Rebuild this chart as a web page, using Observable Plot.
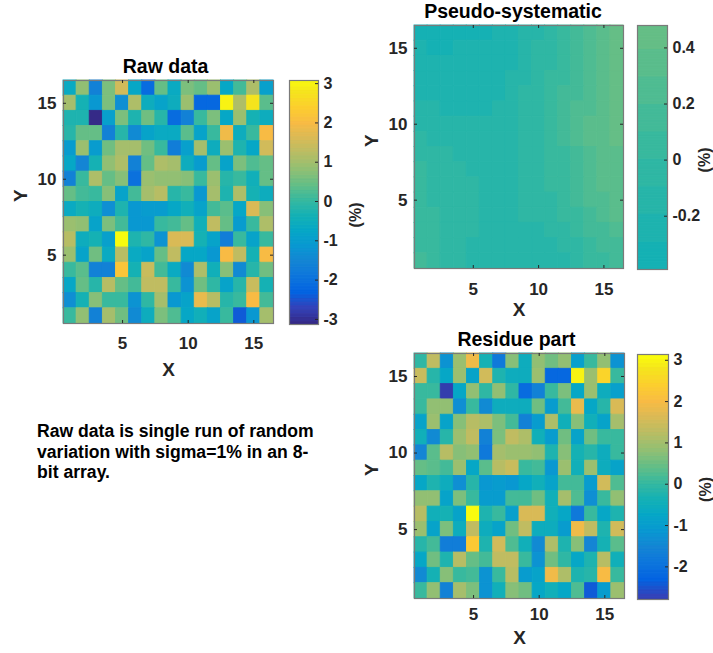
<!DOCTYPE html>
<html><head><meta charset="utf-8">
<script src="https://cdn.jsdelivr.net/npm/d3@7"></script>
<script src="https://cdn.jsdelivr.net/npm/@observablehq/plot@0.6"></script>
<style>
body{margin:0;background:#fff;}
#root{position:relative;width:713px;height:653px;overflow:hidden;font-family:"Liberation Sans",Arial,sans-serif;}
.panel{position:absolute;width:max-content;}
.panel svg{overflow:visible;max-width:none !important;display:block;}
.note{position:absolute;left:37px;top:421px;font-weight:bold;font-size:17.6px;line-height:20.5px;color:#000;white-space:nowrap;}
</style></head>
<body><div id="root"></div>
<script>
// ---- data (rows listed from Y=16 at top down to Y=1; columns X=1..16) ----
const rawData = [
  [-0.6, 0.8, -1.6, 0.6, 1.5, -0.7, -2.1, 0.4, -0.6, 0.6, 0.45, 0.95, -0.7, 0.15, 1.1, -0.9],
  [1.0, -0.3, -1.1, 0.6, -1.3, 1.1, -0.5, -0.8, -0.5, 0.9, -2.2, -2.2, 3.0, 1.1, 2.8, 0.3],
  [-0.2, -0.2, -3.1, -0.9, 0.6, -0.2, 0.55, -0.1, -2.1, -1.6, 0.05, 0.6, -0.75, 0.9, -0.3, -0.55],
  [-0.1, 0.45, 0.4, -1.6, -0.1, -1.45, -0.85, -0.65, -0.65, 0.35, -0.85, 0.1, 1.9, -0.55, 0.1, 2.0],
  [-1.0, 0.9, -1.0, 0.5, 1.0, 1.0, 0.5, 0.05, -1.7, -0.95, 1.05, -0.5, 0.9, -0.25, -0.7, 1.55],
  [-0.75, -1.5, -0.35, 0.8, 1.1, -1.6, 0.45, 1.15, 1.05, -0.55, -1.0, 0.45, -0.8, 0.65, 0.25, 0.45],
  [-1.6, 0.1, 1.1, 0.45, 0.7, -2.0, 0.9, 0.8, 0.85, 0.75, 0.05, 0.9, -0.1, 0.05, -0.45, 0.45],
  [0.4, 0.15, 0.1, 0.75, -0.8, 0.15, 1.05, 1.2, -0.1, 0.1, -1.15, 1.0, -0.2, 1.1, -0.3, -0.5],
  [-0.65, -0.3, -0.5, -1.3, -0.25, -1.1, -1.05, -1.0, -0.75, -0.4, -0.85, 0.2, 0.35, -0.75, 1.65, 0.75],
  [0.9, 0.85, -0.85, 0.6, 0.15, -1.1, -1.1, 0.1, 0.15, 0.45, -0.45, 1.3, 0.4, -1.0, 0.05, 1.1],
  [1.2, -0.55, -0.3, -0.95, 3.05, -0.2, 0.0, -1.2, 1.6, 1.6, -0.3, -0.8, -1.75, 0.05, -0.8, 0.05],
  [0.9, -0.85, 0.55, -0.6, 1.25, -0.65, -0.85, 0.4, 1.3, -0.7, -0.7, -1.1, 2.0, 1.3, -0.3, 2.0],
  [0.05, 0.35, -1.6, -1.6, 2.2, -0.3, 1.45, 0.2, -0.65, -1.45, 1.1, -0.4, 0.7, -1.45, -0.15, 0.55],
  [-0.75, 0.45, -0.15, 1.2, 0.45, 0.2, 1.35, 1.35, 0.05, -1.2, 0.5, 0.0, -0.8, -0.1, 1.4, -0.3],
  [-1.3, -0.3, 0.7, 0.05, 0.1, -1.2, -0.05, 1.0, -1.1, -0.85, 1.85, 1.2, -0.15, 0.05, 2.05, 0.2],
  [0.05, 0.8, -1.6, 1.05, 0.55, -1.45, -0.55, 0.6, 0.25, -0.75, -0.45, -0.8, 0.1, -2.4, -1.15, 1.05]
];
const pseudoData = [
  [-0.34,-0.34,-0.34,-0.34,-0.34,-0.34,-0.24,-0.24,-0.14,-0.14,-0.04,0.06,0.15,0.25,0.35,0.45],
  [-0.24,-0.34,-0.34,-0.24,-0.24,-0.24,-0.24,-0.24,-0.14,-0.04,-0.04,0.06,0.15,0.25,0.35,0.45],
  [-0.24,-0.24,-0.24,-0.24,-0.24,-0.24,-0.24,-0.24,-0.14,-0.04,-0.04,0.06,0.15,0.25,0.35,0.45],
  [-0.24,-0.24,-0.24,-0.24,-0.24,-0.24,-0.24,-0.14,-0.14,-0.04,0.06,0.06,0.15,0.25,0.35,0.45],
  [-0.24,-0.24,-0.24,-0.24,-0.24,-0.24,-0.24,-0.14,-0.04,-0.04,0.06,0.15,0.15,0.25,0.35,0.45],
  [-0.14,-0.14,-0.24,-0.24,-0.24,-0.24,-0.14,-0.14,-0.04,-0.04,0.06,0.15,0.25,0.25,0.35,0.45],
  [-0.14,-0.14,-0.14,-0.14,-0.14,-0.14,-0.14,-0.14,-0.04,-0.04,0.06,0.15,0.25,0.35,0.35,0.45],
  [-0.04,-0.14,-0.14,-0.14,-0.14,-0.14,-0.14,-0.14,-0.04,-0.04,0.06,0.15,0.25,0.35,0.35,0.45],
  [-0.04,-0.04,-0.04,-0.14,-0.14,-0.14,-0.14,-0.14,-0.04,-0.04,0.06,0.06,0.15,0.25,0.35,0.35],
  [0.06,-0.04,-0.04,-0.04,-0.14,-0.14,-0.14,-0.14,-0.04,-0.04,0.06,0.06,0.15,0.25,0.35,0.35],
  [0.06,-0.04,-0.04,-0.04,-0.04,-0.14,-0.14,-0.14,-0.04,-0.04,0.06,0.06,0.15,0.25,0.35,0.35],
  [0.06,-0.04,-0.04,-0.04,-0.04,-0.14,-0.14,-0.14,-0.04,-0.04,-0.04,0.06,0.15,0.25,0.25,0.35],
  [0.06,0.06,-0.04,-0.04,-0.04,-0.14,-0.14,-0.14,-0.04,-0.04,-0.04,0.06,0.06,0.15,0.25,0.35],
  [0.06,0.06,-0.04,-0.04,-0.04,-0.14,-0.14,-0.14,-0.14,-0.14,-0.04,-0.04,0.06,0.15,0.15,0.25],
  [0.06,0.06,-0.04,-0.04,-0.14,-0.14,-0.14,-0.14,-0.14,-0.14,-0.14,-0.04,-0.04,0.06,0.15,0.15],
  [0.15,0.06,-0.04,-0.04,-0.14,-0.14,-0.14,-0.14,-0.14,-0.14,-0.14,-0.14,-0.04,0.06,0.06,0.15]
];
const residueData = [
  [0.0, 1.3, -1.2, 0.9, 1.95, -0.3, -1.8, 0.7, -0.55, 0.8, 0.5, 0.85, -0.95, 0.05, 0.85, -1.25],
  [1.4, -0.1, -0.75, 0.95, -0.8, 1.5, -0.25, -0.55, -0.55, 0.9, -2.2, -2.2, 3.0, 0.9, 2.5, 0.05],
  [0.05, 0.05, -2.75, -0.75, 0.85, 0.0, 0.85, -0.05, -2.1, -1.6, 0.1, 0.6, -0.75, 0.9, -0.55, -0.95],
  [0.1, 0.85, 0.85, -1.3, 0.1, -1.4, -0.55, -0.55, -0.55, 0.5, -1.0, 0.2, 1.8, -0.75, -0.1, 1.6],
  [-0.85, 0.95, -0.85, 0.7, 1.2, 1.15, 0.65, 0.2, -1.6, -1.0, 1.1, -0.4, 0.75, -0.45, -0.8, 1.0],
  [-0.45, -1.45, -0.15, 0.95, 1.3, -1.6, 0.6, 1.35, 1.1, -0.45, -1.0, 0.5, -0.8, 0.5, 0.05, 0.1],
  [-1.5, 0.3, 1.25, 0.7, 0.85, -1.8, 1.05, 0.9, 0.9, 0.8, -0.25, 0.75, -0.3, -0.15, -0.5, 0.05],
  [0.45, 0.3, 0.2, 0.9, -0.75, 0.3, 1.2, 1.4, 0.05, 0.2, -1.15, 0.9, -0.45, 0.9, -0.55, -0.85],
  [-0.75, -0.25, -0.55, -1.3, -0.1, -1.1, -1.0, -1.1, -0.75, -0.45, -0.85, 0.15, 0.15, -1.0, 1.5, 0.25],
  [0.8, 0.8, -0.8, 0.65, 0.1, -1.0, -1.0, 0.2, 0.2, 0.5, -0.45, 1.05, 0.25, -1.3, 0.1, 0.8],
  [1.2, -0.45, -0.3, -0.8, 3.1, -0.25, 0.05, -0.95, 1.6, 1.6, -0.4, -0.75, -1.8, 0.05, -0.75, -0.2],
  [0.9, -0.85, 0.6, -0.55, 1.3, -0.55, -0.8, 0.5, 1.35, -0.55, -0.55, -1.0, 1.9, 1.3, -0.25, 1.55],
  [-0.1, 0.2, -1.7, -1.7, 2.3, -0.25, 1.5, 0.25, -0.45, -1.45, 1.1, -0.25, 0.75, -1.5, -0.3, 0.35],
  [-0.75, 0.5, -0.25, 1.2, 0.45, 0.15, 1.35, 1.35, 0.1, -1.2, 0.55, 0.0, -0.75, -0.2, 1.2, -0.45],
  [-1.45, -0.35, 0.75, 0.1, 0.15, -1.2, 0.05, 1.2, -1.0, -0.85, 1.9, 1.1, -0.25, -0.1, 2.0, 0.05],
  [0.05, 0.8, -1.6, 1.05, 0.65, -1.2, -0.45, 0.7, 0.5, -0.75, -0.45, -0.75, 0.25, -2.4, -1.0, 0.9]
];
const axisTicks = [5, 10, 15];
const rawBarTicks = [-3, -2, -1, 0, 1, 2, 3];
const pseudoBarTicks = [-0.2, 0, 0.2, 0.4];
const residueBarTicks = [-2, -1, 0, 1, 2, 3];
const rawBarLimits = [-3.13, 3.08];
const pseudoBarLimits = [-0.39, 0.48];
const residueBarLimits = [-2.79, 3.14];
const colorLimits = [-3.13, 3.14];
const titles = ["Raw data", "Pseudo-systematic", "Residue part"];
const noteLines = ["Raw data is single run of random", "variation with sigma=1% in an 8-", "bit array."];

// ---- parula colormap (64 levels, like MATLAB) ----
const parulaStops = ["#352a87","#3243ba","#0363e1","#0d75dc","#1485d4","#0998d1","#06a7c6","#15b1b4","#38b99e","#65be86","#92bf73","#b7bd64","#d9ba56","#f8bb44","#fcce2e","#f5e41d","#f9fb0e"];
const stopIdx = [0,4,8,12,16,20,24,28,32,36,40,44,48,52,56,60,63];
const ramp = d3.scaleLinear().domain(stopIdx).range(parulaStops).interpolate(d3.interpolateRgb);
const parula64 = d3.range(64).map(i => d3.color(ramp(i)).formatHex());
const colorScale = {type: "quantize", domain: colorLimits, range: parula64};

const FONT = "'Liberation Sans', Arial, Helvetica, sans-serif";
const TXT = "#262626";
const root = document.getElementById("root");

function cellsOf(rows) {
  const out = [];
  rows.forEach((row, r) => row.forEach((v, c) => out.push({x: c + 1, y: rows.length - r, v})));
  return out;
}

function place(svg, left, top) {
  const d = document.createElement("div");
  d.className = "panel";
  d.style.left = left + "px";
  d.style.top = top + "px";
  d.appendChild(svg);
  root.appendChild(d);
}

function heatmap(rows, title, o) {
  const m = {l: 60, r: 12, t: 30, b: 56};
  const svg = Plot.plot({
    width: m.l + o.fw + m.r, height: m.t + o.fh + m.b,
    marginLeft: m.l, marginRight: m.r, marginTop: m.t, marginBottom: m.b,
    style: {fontFamily: FONT, fontWeight: "bold", color: TXT, background: "transparent"},
    x: {domain: [0.5, 16.5]},
    y: {domain: [0.5, 16.5]},
    color: colorScale,
    marks: [
      Plot.rect(cellsOf(rows), {x1: d => d.x - 0.5, x2: d => d.x + 0.5, y1: d => d.y - 0.5, y2: d => d.y + 0.5, fill: "v", stroke: "v", strokeWidth: 0.9}),
      Plot.frame({stroke: "#7a7a7a", strokeWidth: 1.2}),
      Plot.ruleX(axisTicks, {insetTop: o.fh - 3, stroke: TXT}),
      Plot.ruleX(axisTicks, {insetBottom: o.fh - 3, stroke: TXT}),
      Plot.ruleY(axisTicks, {insetRight: o.fw - 3, stroke: TXT}),
      Plot.ruleY(axisTicks, {insetLeft: o.fw - 3, stroke: TXT}),
      Plot.axisX(axisTicks, {tickSize: 0, tickPadding: o.xPad, fontSize: 17, fill: TXT, label: null, tickFormat: d => String(d)}),
      Plot.axisY(axisTicks, {tickSize: 0, tickPadding: 7, fontSize: 17, fill: TXT, label: null, tickFormat: d => String(d)}),
      Plot.text([title], {text: d => d, frameAnchor: "top", dy: -14, dx: o.titleDx, fontSize: 19.5, fontWeight: "bold", fill: "#000", lineAnchor: "middle"}),
      Plot.text(["X"], {text: d => d, frameAnchor: "bottom", dy: o.xLab, fontSize: 19, fontWeight: "bold", fill: TXT, lineAnchor: "middle"}),
      Plot.text(["Y"], {text: d => d, frameAnchor: "left", dx: -43, rotate: -90, fontSize: 19, fontWeight: "bold", fill: TXT, lineAnchor: "middle"})
    ]
  });
  place(svg, o.left - m.l, o.top - m.t);
}

function colorbar(lims, ticks, o) {
  const m = {l: 4, r: 52, t: 6, b: 6};
  const n = 400;
  const steps = d3.range(n).map(i => lims[0] + (lims[1] - lims[0]) * (i + 0.5) / n);
  const svg = Plot.plot({
    width: m.l + o.fw + m.r, height: m.t + o.fh + m.b,
    marginLeft: m.l, marginRight: m.r, marginTop: m.t, marginBottom: m.b,
    style: {fontFamily: FONT, fontWeight: "bold", color: TXT, background: "transparent"},
    x: {domain: [0, 1], axis: null},
    y: {domain: lims},
    color: colorScale,
    marks: [
      Plot.ruleY(steps, {y: d => d, stroke: d => d, strokeWidth: o.fh / n + 0.7}),
      Plot.frame({stroke: "#7a7a7a", strokeWidth: 1.2}),
      Plot.ruleY(ticks, {insetLeft: o.fw - 3, stroke: TXT}),
      Plot.axisY(ticks, {anchor: "right", tickSize: 0, tickPadding: 5, fontSize: 16, fill: TXT, label: null, tickFormat: d => String(d)}),
      Plot.text(["(%)"], {text: d => d, frameAnchor: "right", dx: 37, rotate: -90, fontSize: 16, fontWeight: "bold", fill: TXT, lineAnchor: "middle"})
    ]
  });
  place(svg, o.left - m.l, o.top - m.t);
}

heatmap(rawData, titles[0], {left: 63.3, top: 80, fw: 210, fh: 243, xPad: 13, xLab: 46, titleDx: -3});
colorbar(rawBarLimits, rawBarTicks, {left: 289, top: 80, fw: 29, fh: 244});
heatmap(pseudoData, titles[1], {left: 414, top: 25, fw: 209, fh: 243, xPad: 14, xLab: 41, titleDx: -6});
colorbar(pseudoBarLimits, pseudoBarTicks, {left: 637, top: 25, fw: 30, fh: 244});
heatmap(residueData, titles[2], {left: 414, top: 353, fw: 210, fh: 245, xPad: 9, xLab: 39, titleDx: -3});
colorbar(residueBarLimits, residueBarTicks, {left: 637, top: 354, fw: 31, fh: 245});

const note = document.createElement("div");
note.className = "note";
note.innerHTML = noteLines.join("<br>");
root.appendChild(note);
</script>
</body></html>
